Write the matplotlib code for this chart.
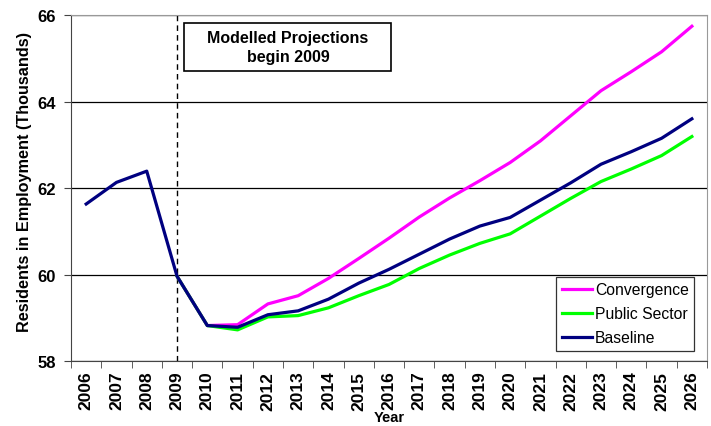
import matplotlib.pyplot as plt
from matplotlib.patches import Rectangle
import numpy as np

plt.rcParams['font.family'] = ['Liberation Sans', 'DejaVu Sans']

years = [str(y) for y in range(2006, 2027)]

# Residents in employment (thousands)
baseline = [61.63, 62.13, 62.39, 59.96, 58.82, 58.78, 59.07, 59.16, 59.43, 59.80,
            60.12, 60.47, 60.82, 61.12, 61.32, 61.72, 62.12, 62.55, 62.84, 63.15, 63.60]
# projection scenarios start in 2009
proj_years = years[3:]
convergence = [59.96, 58.82, 58.84, 59.32, 59.51, 59.91, 60.37, 60.84, 61.33, 61.77,
               62.17, 62.59, 63.09, 63.67, 64.25, 64.69, 65.15, 65.74]
public_sector = [59.96, 58.82, 58.72, 59.02, 59.05, 59.23, 59.51, 59.77, 60.14, 60.45,
                 60.72, 60.94, 61.35, 61.76, 62.15, 62.44, 62.75, 63.19]

fig = plt.figure(figsize=(7.11, 4.27), dpi=100)
ax = fig.add_axes([0.0999, 0.1522, 0.8945, 0.8103])

x_all = np.arange(len(years))
x_proj = np.arange(3, len(years))

ax.plot(x_proj, convergence, color='#FF00FF', lw=2.3, label='Convergence', zorder=3)
ax.plot(x_proj, public_sector, color='#00FF00', lw=2.3, label='Public Sector', zorder=4)
ax.plot(x_all, baseline, color='#000080', lw=2.3, label='Baseline', zorder=5)

ax.set_xlim(-0.5, len(years) - 0.5)
ax.set_ylim(58, 66)
ax.set_yticks([58, 60, 62, 64, 66])
ax.set_yticklabels(['58', '60', '62', '64', '66'], fontsize=12, fontweight='bold')
ax.yaxis.grid(True, color='black', lw=0.9)
ax.set_axisbelow(True)

# category axis: labels centred, ticks between categories
ax.set_xticks(x_all)
ax.set_xticklabels(years, rotation=90, fontsize=12.5, fontweight='bold')
ax.tick_params(axis='x', which='major', length=0, pad=7)
ax.set_xticks(np.arange(-0.5, len(years)), minor=True)
ax.tick_params(axis='x', which='minor', length=5, direction='out', color='#444444')
ax.tick_params(axis='y', length=5, direction='out', color='#444444', pad=6)

for side in ['top', 'right']:
    ax.spines[side].set_color('#999999')
for side in ['left', 'bottom']:
    ax.spines[side].set_color('#444444')

ax.axvline(3, color='black', lw=1, ls=(0, (4, 3)), zorder=2)

# annotation box
ax.add_patch(Rectangle((0.178, 0.837), 0.325, 0.139, transform=ax.transAxes,
                       fc='white', ec='black', lw=1.2, zorder=6))
ax.text(0.341, 0.907, 'Modelled Projections\nbegin 2009', transform=ax.transAxes,
        ha='center', va='center', fontsize=11.5, fontweight='bold', linespacing=1.3, zorder=7)

ax.set_ylabel('Residents in Employment (Thousands)', fontsize=11.7, fontweight='bold')
ax.yaxis.set_label_coords(-0.0613, 0.519)
xl = ax.set_xlabel('Year', fontsize=10.5, fontweight='bold', va='bottom')
ax.xaxis.set_label_coords(0.5, -0.182)

leg = ax.legend(loc='lower right', bbox_to_anchor=(0.98, 0.029), fontsize=11.3,
                frameon=True, fancybox=False, edgecolor='black', handlelength=1.9,
                borderpad=0.35, labelspacing=0.58, handletextpad=0.2, borderaxespad=0)
leg.get_frame().set_linewidth(0.9)

fig.savefig('out.png', dpi=100)
